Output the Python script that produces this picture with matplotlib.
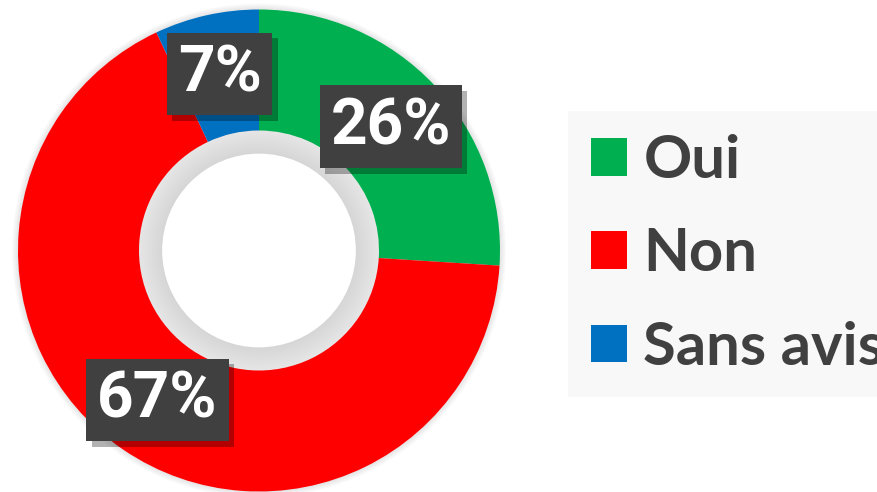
import numpy as np
import matplotlib
matplotlib.use("Agg")
import matplotlib.pyplot as plt
import matplotlib.patheffects as pe

# data
labels = ["Oui", "Non", "Sans avis"]
values = [26, 67, 7]
colors = ["#00b050", "#ff0000", "#0070c0"]

W, H = 878, 492
fig = plt.figure(figsize=(W / 100, H / 100), dpi=100)
fig.patch.set_facecolor("white")

# donut axes, placed in pixels (centre 259, 250.5, radius 241)
cx, cy, R = 259, 250.5, 241
half = 250
ax = fig.add_axes([(cx - half) / W, (H - cy - half) / H, 2 * half / W, 2 * half / H])

# soft shadow around the ring
for k in range(5):
    ax.add_patch(plt.Circle((0, 0), 1 + 0.005 * (k + 1), color="black",
                            alpha=0.02, lw=0, zorder=0))

wedges, _ = ax.pie(values, colors=colors, startangle=90, counterclock=False,
                   radius=1, wedgeprops=dict(width=121 / R, linewidth=0))
ax.set_xlim(-half / R, half / R)
ax.set_ylim(-half / R, half / R)
ax.set_aspect("equal")
ax.axis("off")

# inner shading of the hole
r_in = 120 / R
n = 16
for k in range(n):
    ax.add_patch(plt.Circle((0, 0), r_in - 0.006 * k, color="black",
                            alpha=0.0055, lw=0, zorder=3))
ax.add_patch(plt.Circle((0, 0), r_in - 0.006 * n, color="white", lw=0, zorder=4))

# percentage labels
for w, v in zip(wedges, values):
    ang = np.deg2rad((w.theta1 + w.theta2) / 2)
    r = 0.75
    t = ax.text(r * np.cos(ang), r * np.sin(ang), f"{v}%",
                ha="center", va="center", color="white", fontsize=46,
                fontweight="bold", family=["Roboto", "DejaVu Sans"],
                zorder=10,
                bbox=dict(boxstyle="square,pad=0.17", facecolor="#404040",
                          edgecolor="none", linewidth=0))
    t.get_bbox_patch().set_path_effects(
        [pe.SimplePatchShadow(offset=(4, -4), shadow_rgbFace="black", alpha=0.3),
         pe.Normal()])

# legend
leg = fig.legend(wedges, labels, loc="upper left",
                 bbox_to_anchor=(568 / W, 1 - 111 / H),
                 prop=dict(family=["Lato", "DejaVu Sans"], weight="bold", size=43),
                 labelcolor="#404040", frameon=True, fancybox=False,
                 facecolor="#f8f8f8", edgecolor="none", framealpha=1,
                 handlelength=0.6, handleheight=0.6, handletextpad=0.28,
                 labelspacing=0.66, borderpad=0.38, borderaxespad=0)

fig.savefig("out.png", dpi=100, facecolor="white")
